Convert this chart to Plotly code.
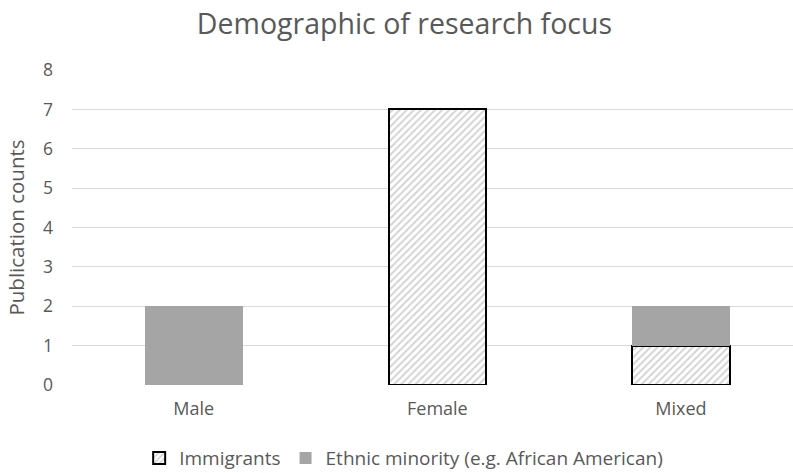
import plotly.graph_objects as go

categories = ["Male", "Female", "Mixed"]
immigrants = [0, 7, 1]
ethnic_minority = [2, 0, 1]
y_ticks = [0, 1, 2, 3, 4, 5, 6, 7, 8]

font_family = "Open Sans, Noto Sans, sans-serif"
text_color = "#595959"

fig = go.Figure()
fig.add_trace(go.Bar(
    x=categories, y=immigrants, name="Immigrants", width=0.4,
    marker=dict(color="white",
                line=dict(color="black", width=2),
                pattern=dict(shape="/", fgcolor="#A8A8A8", bgcolor="white", size=5, solidity=0.4)),
))
fig.add_trace(go.Bar(
    x=categories, y=ethnic_minority, name="Ethnic minority (e.g. African American)", width=0.4,
    marker=dict(color="#A5A5A5", line=dict(width=0)),
))

fig.update_layout(
    barmode="stack",
    width=793, height=473,
    margin=dict(l=72, r=0, t=70, b=88, autoexpand=False),
    paper_bgcolor="white", plot_bgcolor="white",
    font=dict(family=font_family, color=text_color, size=17),
    title=dict(text="Demographic of research focus", x=0.51, xanchor="center",
               y=0.95, yanchor="middle",
               font=dict(size=28.5, color=text_color, family=font_family)),
    legend=dict(orientation="h", x=0.46, xanchor="center", y=-0.172, yanchor="top",
                font=dict(size=19, color=text_color), traceorder="normal",
                itemwidth=30),
    xaxis=dict(range=[-0.5, 2.46], showgrid=False, showline=False, ticks="",
               automargin=False, ticklabelstandoff=11,
               tickfont=dict(size=18, color=text_color)),
    yaxis=dict(range=[0, 8], tickvals=y_ticks, showgrid=True, gridcolor="#D9D9D9", gridwidth=1,
               zeroline=False, showline=False, ticks="", ticklabelstandoff=18,
               automargin=False,
               tickfont=dict(size=17.5, color=text_color),
               title=dict(text="Publication counts", font=dict(size=20.5, color=text_color), standoff=12)),
)

fig.write_html("out.html")
